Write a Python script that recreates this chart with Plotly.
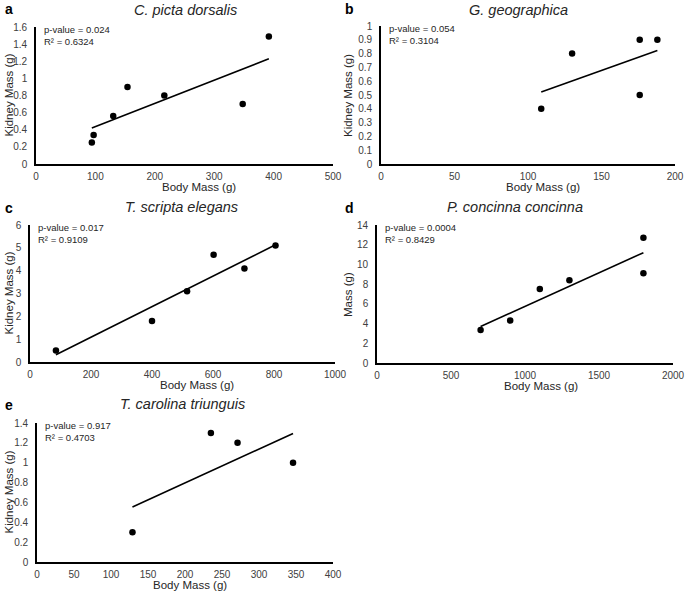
import numpy as np
import plotly.graph_objects as go

W, H = 685, 594

# ---- data ----
a_x = [94, 97, 130, 154, 216, 348, 392]
a_y = [0.25, 0.34, 0.56, 0.90, 0.80, 0.70, 1.49]
b_x = [109, 130, 176, 176, 188]
b_y = [0.40, 0.80, 0.90, 0.50, 0.90]
c_x = [85, 400, 515, 602, 703, 805]
c_y = [0.5, 1.8, 3.1, 4.7, 4.1, 5.1]
d_x = [700, 900, 1100, 1300, 1800, 1800]
d_y = [3.35, 4.3, 7.5, 8.4, 12.7, 9.1]
e_x = [129, 235, 271, 346]
e_y = [0.30, 1.30, 1.20, 1.00]

titles = ["C. picta dorsalis", "G. geographica", "T. scripta elegans",
          "P. concinna concinna", "T. carolina triunguis"]
letters = ["a", "b", "c", "d", "e"]
pvals = ["p-value = 0.024", "p-value = 0.054", "p-value = 0.017",
         "p-value = 0.0004", "p-value = 0.917"]
r2s = ["R² = 0.6324", "R² = 0.3104", "R² = 0.9109", "R² = 0.8429", "R² = 0.4703"]
ytitles = ["Kidney Mass (g)", "Kidney Mass (g)", "Kidney Mass (g)", "Mass (g)", "Kidney Mass (g)"]
xtitle = "Body Mass (g)"
xranges = [[0, 500], [0, 200], [0, 1000], [0, 2000], [0, 400]]
xdticks = [100, 50, 200, 500, 50]
yranges = [[0, 1.6], [0, 1], [0, 6], [0, 14], [0, 1.4]]
ydticks = [0.2, 0.1, 1, 2, 0.2]

data = [(a_x, a_y), (b_x, b_y), (c_x, c_y), (d_x, d_y), (e_x, e_y)]

# layout (pixels): plot boxes (left, right, top, bottom)
boxes = [(36, 333, 27, 164), (381, 675, 26, 164), (30, 335, 225, 362),
         (377, 673, 225, 363), (37, 333, 423, 562)]
title_pos = [(185, 10), (518, 10), (181, 207), (515, 207), (183, 404)]
letter_pos = [(3, 9), (343, 9), (3, 208), (343, 208), (3, 405)]
xtitle_pos = [(199, 187), (543, 187), (197, 385), (541, 386), (190, 585)]
ytitle_x = [8, 348, 8, 348, 8]

FONT = "Liberation Sans, Arial, sans-serif"
TICKC = "#404040"
TXTC = "#262626"

def px(x):
    return x / W

def py(y):
    return 1 - y / H

fig = go.Figure()
layout = dict(width=W, height=H, margin=dict(l=0, r=0, t=0, b=0),
              plot_bgcolor="white", paper_bgcolor="white", showlegend=False,
              font=dict(family=FONT, color=TXTC))
annotations = []

for i, ((xs, ys), box) in enumerate(zip(data, boxes)):
    l, r, t, b = box
    n = "" if i == 0 else str(i + 1)
    xa, ya = "x" + n, "y" + n
    xs_arr = np.array(xs, float)
    ys_arr = np.array(ys, float)
    slope, icpt = np.polyfit(xs_arr, ys_arr, 1)
    lx = np.array([xs_arr.min(), xs_arr.max()])
    fig.add_trace(go.Scatter(x=lx, y=slope * lx + icpt, mode="lines",
                             line=dict(color="black", width=1.6),
                             xaxis=xa, yaxis=ya, hoverinfo="skip"))
    fig.add_trace(go.Scatter(x=xs, y=ys, mode="markers",
                             marker=dict(color="black", size=6.5),
                             xaxis=xa, yaxis=ya, cliponaxis=False))
    layout["xaxis" + n] = dict(domain=[px(l), px(r)], range=xranges[i], dtick=xdticks[i],
                               anchor=ya, showgrid=False, zeroline=False, automargin=False,
                               showline=True, linecolor="black", linewidth=1.6,
                               ticks="outside", ticklen=2, tickcolor="rgba(0,0,0,0)",
                               tickfont=dict(size=10, color=TICKC, family=FONT))
    layout["yaxis" + n] = dict(domain=[py(b), py(t)], range=yranges[i], dtick=ydticks[i],
                               anchor=xa, showgrid=False, zeroline=False, automargin=False,
                               showline=True, linecolor="black", linewidth=1.6,
                               ticks="outside", ticklen=5, tickcolor="rgba(0,0,0,0)",
                               tickfont=dict(size=10, color=TICKC, family=FONT))
    annotations.append(dict(text="<i>" + titles[i] + "</i>", x=px(title_pos[i][0]), y=py(title_pos[i][1]),
                            xref="paper", yref="paper", showarrow=False,
                            xanchor="center", yanchor="middle",
                            font=dict(size=14.5, color=TXTC, family=FONT)))
    annotations.append(dict(text="<b>" + letters[i] + "</b>", x=px(letter_pos[i][0]), y=py(letter_pos[i][1]),
                            xref="paper", yref="paper", showarrow=False,
                            xanchor="left", yanchor="middle",
                            font=dict(size=14, color="black", family=FONT)))
    annotations.append(dict(text=xtitle, x=px(xtitle_pos[i][0]), y=py(xtitle_pos[i][1]),
                            xref="paper", yref="paper", showarrow=False,
                            xanchor="center", yanchor="middle",
                            font=dict(size=11.5, color=TXTC, family=FONT)))
    annotations.append(dict(text=ytitles[i], x=px(ytitle_x[i]), y=py((t + b) / 2),
                            xref="paper", yref="paper", showarrow=False, textangle=-90,
                            xanchor="center", yanchor="middle",
                            font=dict(size=11.5, color=TXTC, family=FONT)))
    annotations.append(dict(text=pvals[i] + "<br>" + r2s[i], x=px(l + 6), y=py(t - 5),
                            xref="paper", yref="paper", showarrow=False, align="left",
                            xanchor="left", yanchor="top",
                            font=dict(size=9.5, color=TXTC, family=FONT)))

layout["annotations"] = annotations
fig.update_layout(**layout)
fig.write_html("out.html", config={"displayModeBar": False},
               post_script="document.body.style.margin='0px';")
